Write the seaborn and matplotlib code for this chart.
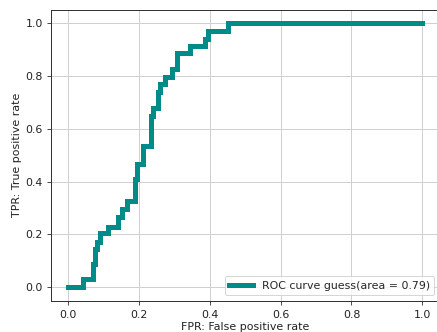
import matplotlib
matplotlib.use("Agg")
import matplotlib.pyplot as plt
import seaborn as sns
import pandas as pd

fpr = [0.0, 0.042, 0.042, 0.071, 0.071, 0.076, 0.076, 0.082, 0.082, 0.090, 0.090,
       0.113, 0.113, 0.141, 0.141, 0.153, 0.153, 0.167, 0.167, 0.189, 0.189,
       0.195, 0.195, 0.212, 0.212, 0.234, 0.234, 0.240, 0.240, 0.254, 0.254,
       0.260, 0.260, 0.274, 0.274, 0.294, 0.294, 0.308, 0.308, 0.345, 0.345,
       0.387, 0.387, 0.395, 0.395, 0.452, 0.452, 1.0]
tpr = [0.0, 0.0, 0.030, 0.030, 0.087, 0.087, 0.144, 0.144, 0.170, 0.170, 0.205,
       0.205, 0.230, 0.230, 0.265, 0.265, 0.295, 0.295, 0.326, 0.326, 0.410,
       0.410, 0.466, 0.466, 0.534, 0.534, 0.648, 0.648, 0.680, 0.680, 0.739,
       0.739, 0.770, 0.770, 0.795, 0.795, 0.826, 0.826, 0.886, 0.886, 0.913,
       0.913, 0.939, 0.939, 0.970, 0.970, 1.0, 1.0]
auc_value = 0.79
label = "ROC curve guess(area = %0.2f)" % auc_value

df = pd.DataFrame({"fpr": fpr, "tpr": tpr, "order": range(len(fpr))})

sns.set_style("ticks")
plt.rcParams["font.family"] = ["DejaVu Sans"]
plt.rcParams["font.size"] = 11

dpi = 72
fig = plt.figure(figsize=(437 / dpi, 332 / dpi), dpi=dpi)
ax = fig.add_axes([50.5 / 437, 31.5 / 332, 389.5 / 437, 290.5 / 332])

sns.lineplot(data=df, x="fpr", y="tpr", sort=False, estimator=None,
             color="darkcyan", linewidth=5, label=label, ax=ax,
             solid_capstyle="projecting", solid_joinstyle="miter")

ax.set_xlim(-0.05, 1.05)
ax.set_ylim(-0.05, 1.05)
ax.set_xticks([0.0, 0.2, 0.4, 0.6, 0.8, 1.0])
ax.set_yticks([0.0, 0.2, 0.4, 0.6, 0.8, 1.0])
ax.grid(True, color="#d0d0d0", linewidth=1)
ax.set_axisbelow(True)
for s in ax.spines.values():
    s.set_color("#333333")
    s.set_linewidth(1)
ax.tick_params(colors="#222222", labelsize=11, length=4)
ax.tick_params(axis="x", pad=5)
ax.set_xlabel("FPR: False positive rate", fontsize=11, color="#222222", labelpad=2)
ax.set_ylabel("TPR: True positive rate", fontsize=11, color="#222222")
leg = ax.legend(loc="lower right", fontsize=11, frameon=True, handlelength=2.2)
leg.get_frame().set_edgecolor("#cccccc")

fig.savefig("out.png", dpi=dpi)
